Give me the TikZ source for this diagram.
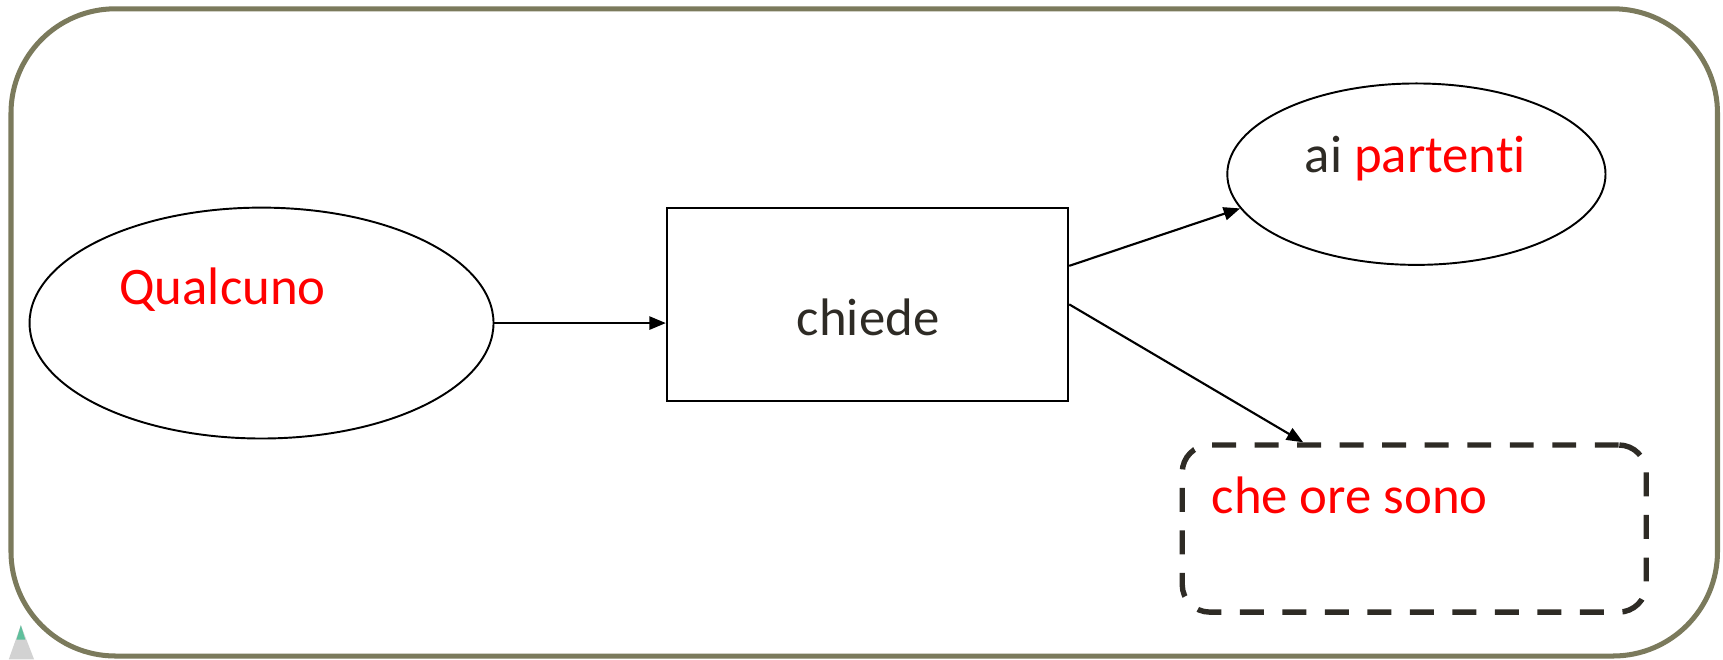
\documentclass[tikz,border=0pt]{standalone}
\usepackage{fontspec}
\setmainfont{Carlito}[Ligatures={NoCommon}]
\usetikzlibrary{shapes.geometric,arrows.meta,calc}
\definecolor{frame}{HTML}{7B7A5C}
\definecolor{ink}{HTML}{2E2B25}
\definecolor{tipgreen}{HTML}{5FBF9C}
\tikzset{
  lbl/.style={font=\fontsize{13.66}{16}\selectfont, inner sep=0pt},
  oval/.style={ellipse, draw=black, line width=0.5pt, inner sep=0pt},
  boxnode/.style={rectangle, draw=black, line width=0.55pt, inner sep=0pt},
  dashbox/.style={rectangle, draw=ink, line width=1.4pt, rounded corners=0.25cm, dash pattern=on 6.2pt off 4.8pt, inner sep=0pt},
  conn/.style={draw=black, line width=0.55pt, -{Triangle[length=0.15cm,width=0.12cm]}}
}
\begin{document}
\begin{tikzpicture}[x=0.01cm,y=-0.01cm]
\useasboundingbox (0,0) rectangle (1568,600);
% outer frame
\draw[frame, line width=1.3pt, rounded corners=0.95cm] (10,8) rectangle (1563,597);
% logo fragment
\fill[gray!35] (8,600) -- (19,569) -- (31,600) -- cycle;
\fill[tipgreen] (19,569) -- (15,582) -- (23,582) -- cycle;
% nodes
\node[oval, minimum width=4.22cm, minimum height=2.1cm] (q) at (238,294) {};
\node[lbl, red, anchor=base west] (qt) at (108,277) {Qualcuno};
\node[boxnode, minimum width=3.65cm, minimum height=1.76cm] (c) at (789.5,277) {};
\node[lbl, text=ink] (ct) at (790,289) {chiede};
\node[oval, minimum width=3.44cm, minimum height=1.65cm] (a) at (1289,158.5) {};
\node[lbl, anchor=base] (at) at (1288,157) {\textcolor{ink}{ai} \textcolor{red}{partenti}};
\node[dashbox, minimum width=4.22cm, minimum height=1.52cm] (d) at (1287,481) {};
\node[lbl, red, anchor=base west] (dt) at (1102,467) {che ore sono};
% connectors
\draw[conn] (q.east) -- (q.east -| c.west);
\draw[conn] (c.east |- a.south) -- (a.191);
\draw[conn] (c.east) -- ([xshift=-1.01cm]d.north);
\end{tikzpicture}
\end{document}
